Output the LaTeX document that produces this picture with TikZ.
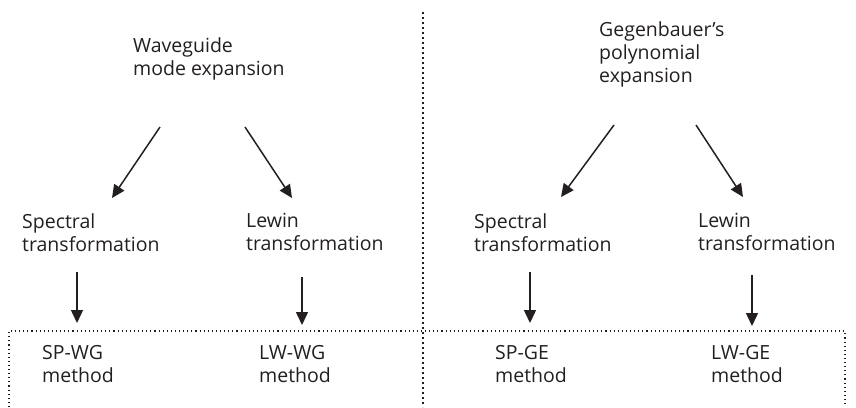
\documentclass[tikz,border=0pt]{standalone}
\usepackage{fontspec}
\setmainfont{Open Sans}
\usetikzlibrary{arrows.meta}
\definecolor{ink}{HTML}{231F20}
\tikzset{txt/.style = {anchor=north west, inner sep=0, align=left, text=ink,
                       font=\fontsize{19.5}{23}\selectfont}}
\tikzset{flow/.style = {draw=ink, line width=1.5pt, -{Triangle[length=13pt, width=12pt]}}}
\tikzset{dots/.style = {draw=ink, line width=1.6pt, dash pattern=on 1.6pt off 3.4pt}}

\begin{document}
\begin{tikzpicture}[x=1pt, y=-1pt]
      \useasboundingbox (0, 0) rectangle (856, 407);
      % divider and the open box round the methods
      \draw [dots] (423, 12) -- (423, 407);
      \draw [dots, line width=1.1pt, dash pattern=on 1.1pt off 3pt] (9, 407) -- (9, 331) -- (845, 331) -- (845, 407);
      % left half
      \node [txt] (wg) at (133, 37) {Waveguide\\mode expansion};
      \node [txt] (sp1) at (22, 213) {Spectral\\transformation};
      \node [txt] (lw1) at (246, 213) {Lewin\\transformation};
      \node [txt] (m1) at (42, 345) {SP-WG\\method};
      \node [txt] (m2) at (259, 345) {LW-WG\\method};
      % right half
      \node [txt] (gb) at (599, 21) {Gegenbauer’s\\polynomial\\expansion};
      \node [txt] (sp2) at (474, 213) {Spectral\\transformation};
      \node [txt] (lw2) at (698, 213) {Lewin\\transformation};
      \node [txt] (m3) at (495, 345) {SP-GE\\method};
      \node [txt] (m4) at (711, 345) {LW-GE\\method};
      % arrow ends
      \coordinate (wg-l) at (160, 127);  \coordinate (sp1-t) at (112, 198);
      \coordinate (wg-r) at (245, 127);  \coordinate (lw1-t) at (292, 198);
      \coordinate (gb-l) at (614, 125);  \coordinate (sp2-t) at (561, 197);
      \coordinate (gb-r) at (696, 125);  \coordinate (lw2-t) at (743, 197);
      \coordinate (sp1-b) at (77, 272);  \coordinate (m1-t) at (77, 323);
      \coordinate (lw1-b) at (302, 277); \coordinate (m2-t) at (302, 325);
      \coordinate (sp2-b) at (530, 272); \coordinate (m3-t) at (530, 323);
      \coordinate (lw2-b) at (752, 275); \coordinate (m4-t) at (752, 326);
      \draw [flow] (wg-l) -- (sp1-t);
      \draw [flow] (wg-r) -- (lw1-t);
      \draw [flow] (gb-l) -- (sp2-t);
      \draw [flow] (gb-r) -- (lw2-t);
      \draw [flow] (sp1-b) -- (m1-t);
      \draw [flow] (lw1-b) -- (m2-t);
      \draw [flow] (sp2-b) -- (m3-t);
      \draw [flow] (lw2-b) -- (m4-t);
    \end{tikzpicture}
\end{document}
